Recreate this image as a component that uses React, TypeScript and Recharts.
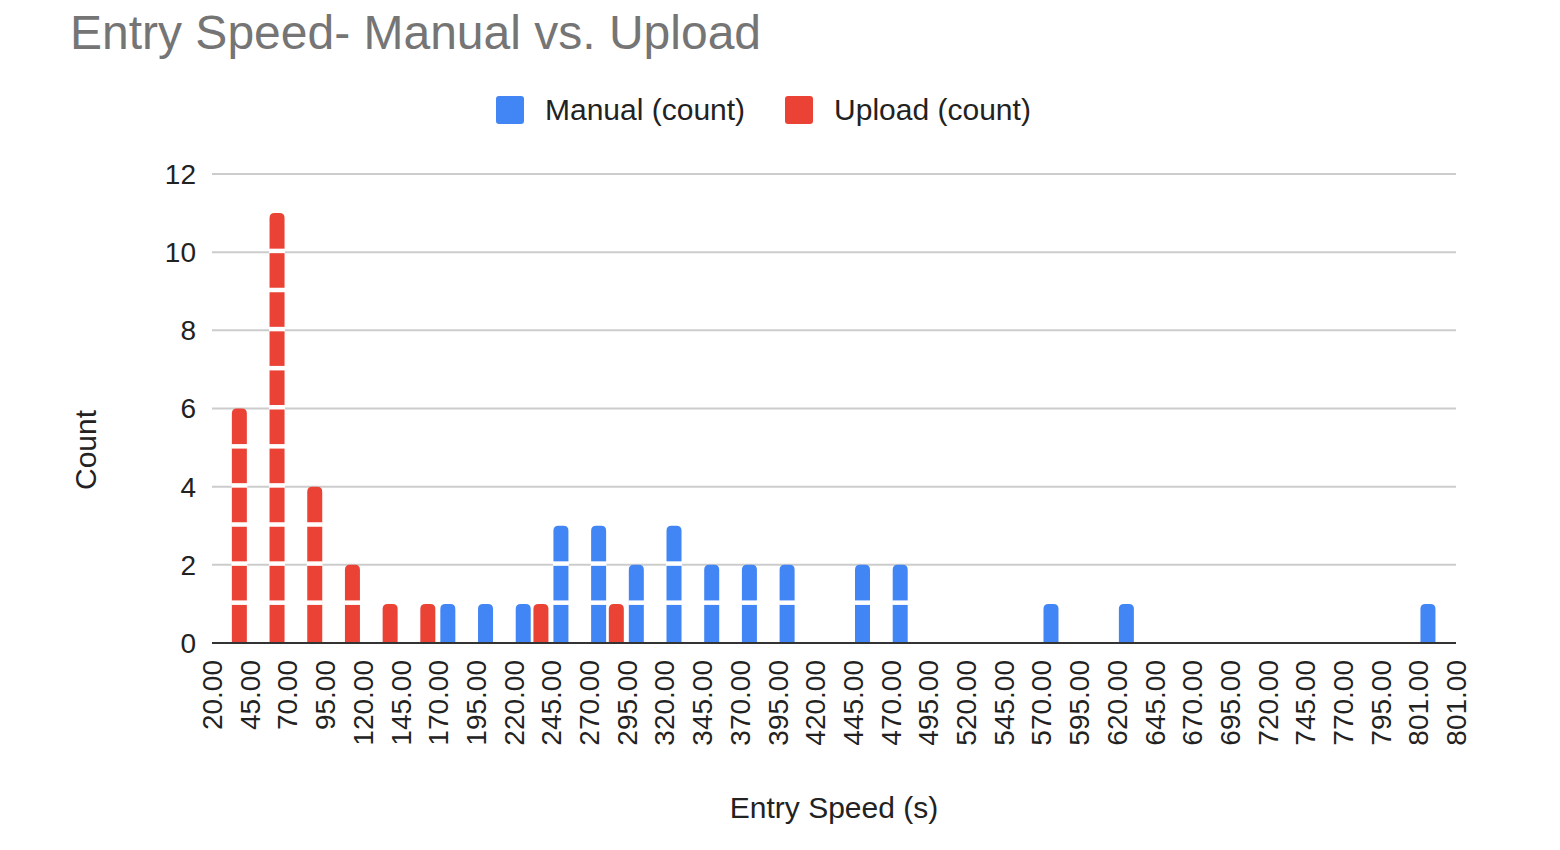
import { BarChart, Bar, XAxis, YAxis, CartesianGrid, Legend, Label } from "recharts";

// histogram bucket edges shown under the axis (Google Sheets style)
const BIN_EDGES = [
  20, 45, 70, 95, 120, 145, 170, 195, 220, 245, 270, 295, 320, 345, 370, 395, 420,
  445, 470, 495, 520, 545, 570, 595, 620, 645, 670, 695, 720, 745, 770, 795, 801, 801,
];

// counts per bucket, one entry per bar group
const MANUAL = [
  0, 0, 0, 0, 0, 1, 1, 1, 3, 3, 2, 3, 2, 2, 2, 0, 2, 2, 0, 0, 0, 1, 0, 1, 0, 0, 0, 0, 0, 0, 0, 1,
];
const UPLOAD = [
  6, 11, 4, 2, 1, 1, 0, 0, 1, 0, 1, 0, 0, 0, 0, 0, 0, 0, 0, 0, 0, 0, 0, 0, 0, 0, 0, 0, 0, 0, 0, 0,
];

const Y_TICKS = [0, 2, 4, 6, 8, 10, 12];

const BLUE = "#4285F4";
const RED = "#EA4335";
const FONT = '"Liberation Sans", Arial, Helvetica, sans-serif';
const TEXT = "#222222";

const LEGEND_ITEMS = [
  { name: "Manual (count)", color: BLUE },
  { name: "Upload (count)", color: RED },
];

const data = MANUAL.map((m, i) => ({ pos: i + 1, manual: m, upload: UPLOAD[i] }));
const X_TICKS = BIN_EDGES.map((_, i) => i);

function EdgeTick(props: any) {
  const { x, y, payload } = props;
  const label = BIN_EDGES[payload.value].toFixed(2);
  return (
    <text
      x={x}
      y={y}
      dy="0.36em"
      transform={`rotate(-90, ${x}, ${y})`}
      textAnchor="end"
      fill={TEXT}
      fontSize={28}
      fontFamily={FONT}
    >
      {label}
    </text>
  );
}

// each counted item is its own block, split by thin white dividers
function segmentShape(key: "manual" | "upload") {
  return (props: any) => {
    const { x, y, width, height, fill, payload } = props;
    const count = payload ? payload[key] : 0;
    if (!count || !height || height <= 0) return <g />;
    const unit = height / count;
    const r = Math.min(5, width / 2, height);
    const bottom = y + height;
    const d =
      `M${x},${bottom} L${x},${y + r} Q${x},${y} ${x + r},${y} ` +
      `L${x + width - r},${y} Q${x + width},${y} ${x + width},${y + r} L${x + width},${bottom} Z`;
    const dividers = [];
    for (let i = 1; i < count; i++) {
      const by = bottom - i * unit;
      dividers.push(<rect key={i} x={x - 0.5} y={by - 3.5} width={width + 1} height={4.5} fill="#fff" />);
    }
    return (
      <g>
        <path d={d} fill={fill} />
        {dividers}
      </g>
    );
  };
}

function LegendContent() {
  return (
    <div
      style={{
        display: "flex",
        alignItems: "center",
        paddingLeft: 496,
        fontFamily: FONT,
        fontSize: 30,
        lineHeight: "34px",
        color: TEXT,
      }}
    >
      {LEGEND_ITEMS.map((it) => (
        <div key={it.name} style={{ display: "flex", alignItems: "center", marginRight: 40 }}>
          <span
            style={{
              display: "inline-block",
              width: 28,
              height: 28,
              background: it.color,
              borderRadius: 3,
              marginRight: 21,
            }}
          />
          <span>{it.name}</span>
        </div>
      ))}
    </div>
  );
}

export default function App() {
  return (
    <div style={{ position: "absolute", left: 0, top: 0, width: 1560, height: 850, background: "#fff" }}>
      <div
        style={{
          position: "absolute",
          left: 70,
          top: 9,
          fontFamily: FONT,
          fontSize: 48,
          lineHeight: "48px",
          color: "#757575",
          whiteSpace: "nowrap",
        }}
      >
        Entry Speed- Manual vs. Upload
      </div>
      <BarChart
        width={1560}
        height={850}
        data={data}
        margin={{ top: 174, right: 104, left: 132, bottom: 27 }}
        barGap={5}
      >
        <CartesianGrid vertical={false} stroke="#cccccc" strokeWidth={2} />
        <XAxis
          type="number"
          dataKey="pos"
          domain={[0, 33]}
          ticks={X_TICKS}
          interval={0}
          height={180}
          tickLine={false}
          tickSize={6}
          tickMargin={11}
          axisLine={{ stroke: "#333333", strokeWidth: 2 }}
          tick={<EdgeTick />}
        >
          <Label
            content={(p: any) => {
              const vb = p.viewBox || {};
              const cx = (vb.x ?? 212) + (vb.width ?? 1244) / 2;
              return (
                <text x={cx} y={818} textAnchor="middle" fill={TEXT} fontSize={30} fontFamily={FONT}>
                  Entry Speed (s)
                </text>
              );
            }}
          />
        </XAxis>
        <YAxis
          domain={[0, 12]}
          ticks={Y_TICKS}
          interval={0}
          width={80}
          axisLine={false}
          tickLine={false}
          tickSize={6}
          tickMargin={10}
          tick={{ fill: TEXT, fontSize: 28, fontFamily: FONT }}
        >
          <Label
            content={() => (
              <text
                x={85}
                y={450}
                dy="0.36em"
                transform="rotate(-90, 85, 450)"
                textAnchor="middle"
                fill={TEXT}
                fontSize={30}
                fontFamily={FONT}
              >
                Count
              </text>
            )}
          />
        </YAxis>
        <Legend
          layout="horizontal"
          verticalAlign="middle"
          align="center"
          content={<LegendContent />}
          wrapperStyle={{ top: 93, left: 0, width: 1560 }}
        />
        <Bar
          dataKey="upload"
          name="Upload (count)"
          fill={RED}
          barSize={15}
          isAnimationActive={false}
          shape={segmentShape("upload")}
        />
        <Bar
          dataKey="manual"
          name="Manual (count)"
          fill={BLUE}
          barSize={15}
          isAnimationActive={false}
          shape={segmentShape("manual")}
        />
      </BarChart>
    </div>
  );
}
